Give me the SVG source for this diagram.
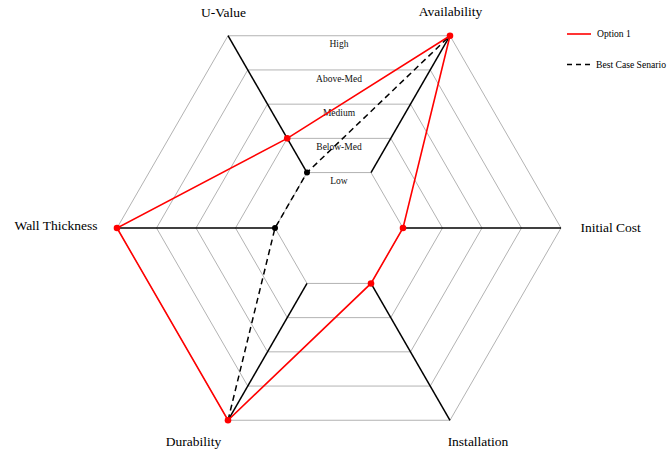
<svg xmlns="http://www.w3.org/2000/svg" width="667" height="452" viewBox="0 0 667 452">
<style>
.grid{fill:none;stroke:#b3b3b3;stroke-width:1}
.axis{stroke:#000;stroke-width:1.5}
.lvl{font-family:"Liberation Serif",serif;font-size:9.5px;fill:#111;text-anchor:middle}
.ax{font-family:"Liberation Serif",serif;font-size:13.5px;fill:#000}
.leg{font-family:"Liberation Serif",serif;font-size:9.6px;fill:#000}
.opt{fill:none;stroke:#ff0000;stroke-width:1.6}
.best{fill:none;stroke:#000;stroke-width:1.5;stroke-dasharray:6,4}
.rdot{fill:#ff0000}
.bdot{fill:#000}
</style>
<rect width="667" height="452" fill="#fff"/>
<g id="grid">
<polygon class="grid" points="371,172.57 403,228 371,283.43 307,283.43 275,228 307,172.57"/>
<polygon class="grid" points="390.75,138.37 442.5,228 390.75,317.63 287.25,317.63 235.5,228 287.25,138.37"/>
<polygon class="grid" points="410.5,104.16 482,228 410.5,351.84 267.5,351.84 196,228 267.5,104.16"/>
<polygon class="grid" points="430.25,69.95 521.5,228 430.25,386.05 247.75,386.05 156.5,228 247.75,69.95"/>
<polygon class="grid" points="450,35.74 561,228 450,420.26 228,420.26 117,228 228,35.74"/>
</g>
<g id="levels">
<text class="lvl" x="339" y="47">High</text>
<text class="lvl" x="339" y="81.5">Above-Med</text>
<text class="lvl" x="339" y="115.7">Medium</text>
<text class="lvl" x="339" y="150">Below-Med</text>
<text class="lvl" x="339" y="184">Low</text>
</g>
<g id="axes">
<line class="axis" x1="371" y1="172.57" x2="450" y2="35.74"/>
<line class="axis" x1="403" y1="228" x2="561" y2="228"/>
<line class="axis" x1="371" y1="283.43" x2="450" y2="420.26"/>
<line class="axis" x1="307" y1="283.43" x2="228" y2="420.26"/>
<line class="axis" x1="275" y1="228" x2="117" y2="228"/>
<line class="axis" x1="307" y1="172.57" x2="228" y2="35.74"/>
</g>
<g id="axis-labels">
<text class="ax" x="223.5" y="17" text-anchor="middle">U-Value</text>
<text class="ax" x="450.5" y="16" text-anchor="middle">Availability</text>
<text class="ax" x="97.5" y="230" text-anchor="end">Wall Thickness</text>
<text class="ax" x="580.5" y="231.5">Initial Cost</text>
<text class="ax" x="193.5" y="446" text-anchor="middle">Durability</text>
<text class="ax" x="478" y="446" text-anchor="middle">Installation</text>
</g>
<g id="connectors">
<polyline class="best" points="228,420.26 275,228 307,172.57 450,35.74"/>
<polygon class="opt" points="450,35.74 403,228 371,283.43 228,420.26 117,228 287.25,138.37"/>
</g>
<g id="points">
<circle class="bdot" cx="275" cy="228" r="3"/>
<circle class="bdot" cx="307" cy="172.57" r="3"/>
<circle class="rdot" cx="450" cy="35.74" r="3.3"/>
<circle class="rdot" cx="403" cy="228" r="3.3"/>
<circle class="rdot" cx="371" cy="283.43" r="3.3"/>
<circle class="rdot" cx="228" cy="420.26" r="3.3"/>
<circle class="rdot" cx="117" cy="228" r="3.3"/>
<circle class="rdot" cx="287.25" cy="138.37" r="3.3"/>
</g>
<g id="legend">
<line x1="567" y1="34" x2="591" y2="34" stroke="#ff0000" stroke-width="1.6"/>
<text class="leg" x="597" y="37">Option 1</text>
<line x1="567" y1="64.5" x2="591" y2="64.5" stroke="#000" stroke-width="1.5" stroke-dasharray="5,4"/>
<text class="leg" x="596" y="67.5" textLength="70" lengthAdjust="spacingAndGlyphs">Best Case Senario</text>
</g>
</svg>
